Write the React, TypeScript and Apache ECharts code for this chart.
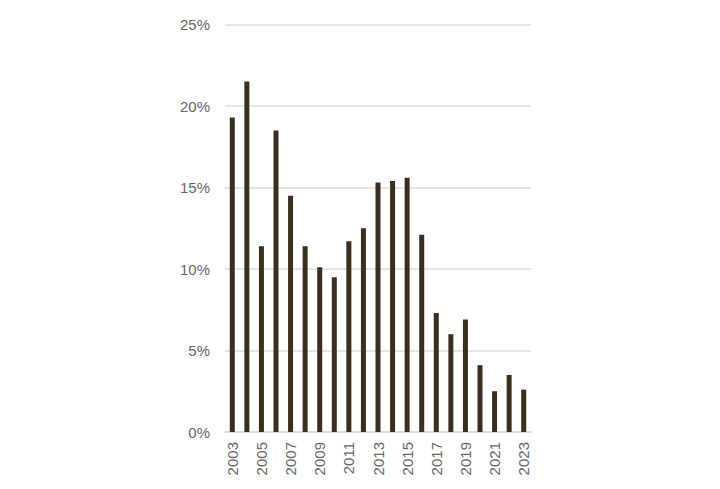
import React, { useEffect, useRef } from "react";
import * as echarts from "echarts";

const years = [
  "2003", "2004", "2005", "2006", "2007", "2008", "2009", "2010", "2011", "2012",
  "2013", "2014", "2015", "2016", "2017", "2018", "2019", "2020", "2021", "2022", "2023",
];
const values = [
  19.3, 21.5, 11.4, 18.5, 14.5, 11.4, 10.1, 9.5, 11.7, 12.5,
  15.3, 15.4, 15.6, 12.1, 7.3, 6.0, 6.9, 4.1, 2.5, 3.5, 2.6,
];
const yTicks = [0, 5, 10, 15, 20, 25];

export default function App() {
  const ref = useRef<HTMLDivElement>(null);
  useEffect(() => {
    if (!ref.current) return;
    const chart = echarts.init(ref.current, null, { renderer: "svg" });
    chart.setOption({
      animation: false,
      backgroundColor: "#ffffff",
      grid: { left: 225, right: 189, top: 24.5, bottom: 57, containLabel: false },
      xAxis: {
        type: "category",
        data: years,
        axisLine: { show: true, lineStyle: { color: "#d9d9d9", width: 1.5 } },
        axisTick: { show: false },
        axisLabel: {
          interval: 1,
          rotate: 90,
          margin: 10,
          color: "#666666",
          fontSize: 15,
          fontFamily: "Liberation Sans, Arial, sans-serif",
        },
      },
      yAxis: {
        type: "value",
        min: yTicks[0],
        max: yTicks[yTicks.length - 1],
        interval: 5,
        axisLine: { show: false },
        axisTick: { show: false },
        splitLine: { lineStyle: { color: "#dcdcdc", width: 1.5 } },
        axisLabel: {
          margin: 15,
          color: "#666666",
          fontSize: 15,
          fontFamily: "Liberation Sans, Arial, sans-serif",
          formatter: (v: number) => `${v}%`,
        },
      },
      series: [
        {
          type: "bar",
          data: values,
          barWidth: 5,
          itemStyle: { color: "#3a2e1e" },
        },
      ],
    });
    return () => chart.dispose();
  }, []);
  return (
    <div
      ref={ref}
      style={{ position: "fixed", left: 0, top: 0, width: 720, height: 489 }}
    />
  );
}
